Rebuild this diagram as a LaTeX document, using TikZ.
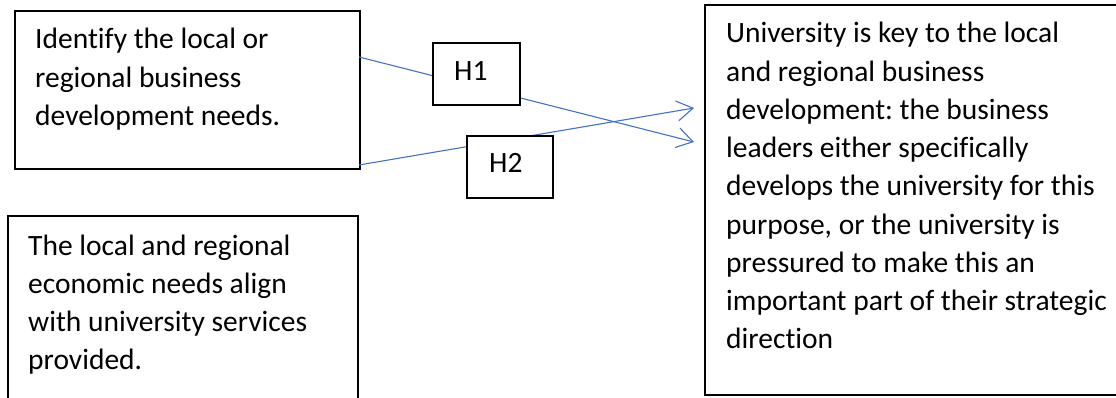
\documentclass[tikz,border=0pt]{standalone}
\usepackage{fontspec}
\setmainfont{Carlito}[Ligatures=NoCommon]
\usetikzlibrary{arrows.meta}
\definecolor{linkblue}{HTML}{4472C4}
\tikzset{
  box/.style={draw=black, line width=1.6pt, fill=white, inner sep=0pt, anchor=north west},
  boxtext/.style={anchor=base west, inner sep=0pt, font=\fontsize{29.5}{38.25}\selectfont},
  link/.style={draw=linkblue, line width=1.1pt, -{Straight Barb[length=16pt,width=20pt,line width=1.1pt]}}
}
\newcommand{\boxlines}[2]{\parbox[t]{#1}{\raggedright\frenchspacing #2}}
\begin{document}
\begin{tikzpicture}[x=1pt,y=-1pt]
  \clip (0,0) rectangle (1116,398);
  \fill[white] (0,0) rectangle (1116,398);

  % main boxes
  \node[box, minimum width=345pt, minimum height=158pt] (A) at (14,10) {};
  \node[boxtext] (Atext) at (35,49) {\boxlines{320pt}{Identify the local or\\regional business\\development needs.}};

  \node[box, minimum width=350pt, minimum height=200pt] (B) at (7,215) {};
  \node[boxtext] (Btext) at (28,255) {\boxlines{325pt}{The local and regional\\economic needs align\\with university services\\provided.}};

  \node[box, minimum width=430pt, minimum height=390pt] (C) at (704,4) {};
  \node[boxtext] (Ctext) at (726,43) {\boxlines{385pt}{University is key to the local\\and regional business\\development: the business\\leaders either specifically\\develops the university for this\\purpose, or the university is\\pressured to make this an\\important part of their strategic\\direction}};

  % connector ends
  \coordinate (s1) at (359,57);
  \coordinate (s2) at (359,165);
  \coordinate (t1) at (694,142);
  \coordinate (t2) at (694,108);

  \draw[link] (s1) -- (t1);
  \draw[link] (s2) -- (t2);

  % hypothesis labels drawn over the connectors
  \node[box, minimum width=87pt, minimum height=62pt] (H1) at (432,42) {};
  \node[boxtext] (H1text) at (454,81) {H1};
  \node[box, minimum width=86pt, minimum height=62pt] (H2) at (466,135) {};
  \node[boxtext] (H2text) at (489,173) {H2};
\end{tikzpicture}
\end{document}
